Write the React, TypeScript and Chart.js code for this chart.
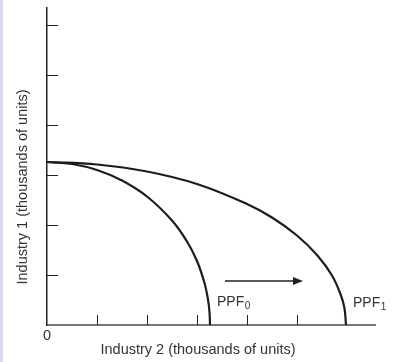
import React, { useEffect, useRef } from 'react';
import { Chart, registerables } from 'chart.js';

Chart.register(...registerables);

// Curve points (thousands of units)
const ppf0X = [0, 0.5, 1.0, 1.5, 2.0, 2.5, 2.8, 3.0, 3.15, 3.22, 3.25, 3.26];
const ppf0Y = [3.26, 3.22, 3.1, 2.89, 2.57, 2.09, 1.67, 1.28, 0.84, 0.51, 0.26, 0];
const ppf1X = [0, 1, 2, 3, 4, 4.5, 5, 5.4, 5.7, 5.88, 5.95, 5.98];
const ppf1Y = [3.26, 3.21, 3.07, 2.82, 2.42, 2.15, 1.79, 1.4, 0.99, 0.59, 0.33, 0];

const xTicks = [1, 2, 3, 4, 5];
const yTicks = [1, 2, 3, 4, 5, 6];
const xMax = 6.56;
const yMax = 6.34;

const xTitle = 'Industry 2 (thousands of units)';
const yTitle = 'Industry 1 (thousands of units)';
const originLabel = '0';

const curveNames = ['PPF', 'PPF'];
const curveSubs = ['0', '1'];
const curveLabelX = [3.4, 6.12];
const curveLabelY = [0.46, 0.44];

const arrowFrom = [3.56, 0.88];
const arrowTo = [5.12, 0.88];

const FONT = '"Liberation Sans", Arial, Helvetica, sans-serif';

export default function App() {
  const ref = useRef<HTMLCanvasElement | null>(null);

  useEffect(() => {
    if (!ref.current) return;
    const overlay = {
      id: 'overlay',
      afterDraw(chart: any) {
        const { ctx, chartArea } = chart;
        const xs = chart.scales.x;
        const ys = chart.scales.y;
        ctx.save();
        // tick marks
        ctx.strokeStyle = '#222';
        ctx.lineWidth = 1;
        xTicks.forEach((v) => {
          const px = Math.round(xs.getPixelForValue(v)) + 0.5;
          ctx.beginPath();
          ctx.moveTo(px, chartArea.bottom);
          ctx.lineTo(px, chartArea.bottom - 10);
          ctx.stroke();
        });
        yTicks.forEach((v) => {
          const py = Math.round(ys.getPixelForValue(v)) + 0.5;
          ctx.beginPath();
          ctx.moveTo(chartArea.left, py);
          ctx.lineTo(chartArea.left + 11, py);
          ctx.stroke();
        });

        // arrow
        const ax0 = xs.getPixelForValue(arrowFrom[0]);
        const ay0 = ys.getPixelForValue(arrowFrom[1]);
        const ax1 = xs.getPixelForValue(arrowTo[0]);
        const ay1 = ys.getPixelForValue(arrowTo[1]);
        ctx.strokeStyle = '#222';
        ctx.fillStyle = '#222';
        ctx.lineWidth = 1.6;
        ctx.beginPath();
        ctx.moveTo(ax0, ay0);
        ctx.lineTo(ax1 - 8, ay1);
        ctx.stroke();
        ctx.beginPath();
        ctx.moveTo(ax1, ay1);
        ctx.lineTo(ax1 - 10, ay1 - 4);
        ctx.lineTo(ax1 - 10, ay1 + 4);
        ctx.closePath();
        ctx.fill();

        // texts
        ctx.fillStyle = '#333';
        ctx.font = `14.5px ${FONT}`;
        ctx.textAlign = 'center';
        ctx.textBaseline = 'middle';
        ctx.fillText(originLabel, xs.getPixelForValue(0), chartArea.bottom + 11);
        ctx.fillText(xTitle, chartArea.left + 151, chartArea.bottom + 25);

        ctx.save();
        ctx.translate(chartArea.left - 24, chartArea.top + 179);
        ctx.rotate(-Math.PI / 2);
        ctx.fillText(yTitle, 0, 0);
        ctx.restore();

        curveNames.forEach((name, i) => {
          const px = xs.getPixelForValue(curveLabelX[i]);
          const py = ys.getPixelForValue(curveLabelY[i]);
          ctx.textAlign = 'left';
          ctx.font = `14px ${FONT}`;
          ctx.fillText(name, px, py);
          const w = ctx.measureText(name).width;
          ctx.font = `10px ${FONT}`;
          ctx.fillText(curveSubs[i], px + w + 0.5, py + 4);
        });
        ctx.restore();
      },
    };

    const chart = new Chart(ref.current, {
      type: 'scatter',
      data: {
        datasets: [
          {
            label: 'PPF0',
            data: ppf0X.map((x, i) => ({ x, y: ppf0Y[i] })),
            showLine: true,
            borderColor: '#1c1c1c',
            borderWidth: 2.2,
            pointRadius: 0,
            tension: 0.4,
          },
          {
            label: 'PPF1',
            data: ppf1X.map((x, i) => ({ x, y: ppf1Y[i] })),
            showLine: true,
            borderColor: '#1c1c1c',
            borderWidth: 2.2,
            pointRadius: 0,
            tension: 0.4,
          },
        ],
      },
      options: {
        animation: false,
        responsive: false,
        maintainAspectRatio: false,
        layout: { padding: { top: 8, right: 18, left: 0, bottom: 0 } },
        plugins: { legend: { display: false }, tooltip: { enabled: false } },
        scales: {
          x: {
            type: 'linear',
            min: 0,
            max: xMax,
            ticks: { display: false },
            grid: { display: false },
            border: { display: true, color: '#777', width: 2 },
            afterFit: (s: any) => {
              s.height = 37;
            },
          },
          y: {
            type: 'linear',
            min: 0,
            max: yMax,
            ticks: { display: false },
            grid: { display: false },
            border: { display: true, color: '#222', width: 1.5 },
            afterFit: (s: any) => {
              s.width = 47;
            },
          },
        },
      },
      plugins: [overlay],
    } as any);
    return () => chart.destroy();
  }, []);

  return (
    <div
      style={{
        position: 'absolute',
        left: 0,
        top: 0,
        width: 393,
        height: 362,
        background: '#fff',
      }}
    >
      <div style={{ position: 'absolute', left: 0, top: 0, width: 3, height: 362, background: '#d4daf3' }} />
      <canvas ref={ref} width={393} height={362} style={{ display: 'block', position: 'relative' }} />
    </div>
  );
}
